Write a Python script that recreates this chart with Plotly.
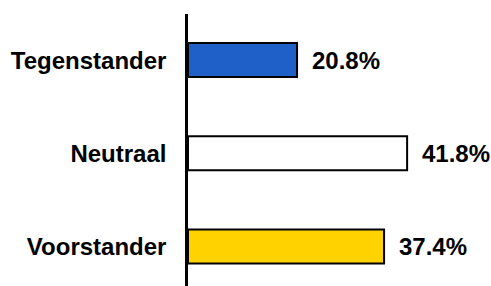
import plotly.graph_objects as go

categories = ["Voorstander", "Neutraal", "Tegenstander"]
values = [37.4, 41.8, 20.8]
labels = ["37.4%", "41.8%", "20.8%"]
colors = ["#FFD200", "#FFFFFF", "#1F5FC8"]

fig = go.Figure()
fig.add_trace(go.Bar(
    y=categories, x=values, orientation="h",
    marker=dict(color=colors, line=dict(color="black", width=2)),
    width=0.365, hoverinfo="skip", cliponaxis=False,
))

for c, v, t in zip(categories, values, labels):
    fig.add_annotation(x=v, y=c, text=f"<b>{t}</b>", showarrow=False,
                       xanchor="left", yanchor="middle", xshift=13,
                       font=dict(family="Liberation Sans, Arial", size=24, color="black"))

fig.update_layout(
    width=491, height=286,
    margin=dict(l=188, r=0, t=14, b=0),
    paper_bgcolor="white", plot_bgcolor="white",
    showlegend=False,
    font=dict(family="Liberation Sans, Arial", size=24, color="black"),
)
fig.update_xaxes(range=[0, 57.8], visible=False, showgrid=False, zeroline=False,
                 automargin=False)
fig.update_yaxes(type="category", categoryorder="array", categoryarray=categories,
                 range=[-0.425, 2.495], showline=True, linecolor="black", linewidth=2.5,
                 showgrid=False, zeroline=False, ticks="", ticklabelstandoff=14,
                 automargin=False,
                 tickfont=dict(family="Liberation Sans, Arial", size=24, color="black", weight="bold"))

fig.write_html(
    "out.html",
    config={"displayModeBar": False},
    post_script="document.body.style.margin='0';document.body.style.overflow='hidden';",
)
